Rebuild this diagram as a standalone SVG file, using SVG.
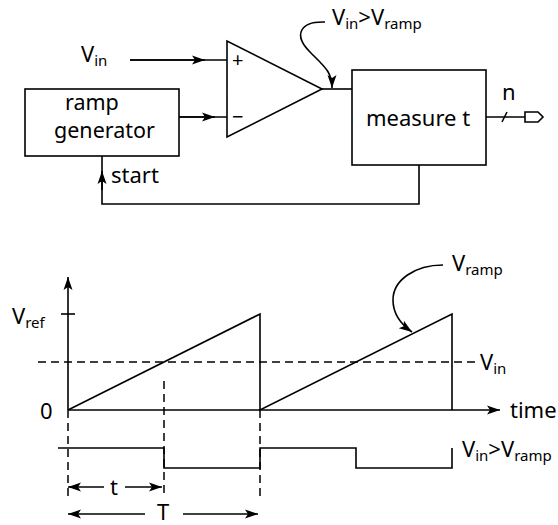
<svg xmlns="http://www.w3.org/2000/svg" width="558" height="525" viewBox="0 0 558 525">
<defs>
<style>
.ln{fill:none;stroke:#000;stroke-width:1.6}
.box{fill:#fff;stroke:#000;stroke-width:1.6}
.dash{fill:none;stroke:#000;stroke-width:1.5;stroke-dasharray:8 5}
text{font-family:"Noto Sans","Liberation Sans",sans-serif;font-size:22px;fill:#000}
.sub{font-size:15px}
</style>
<marker id="arr" viewBox="-14 -6 16 12" refX="0" refY="0" markerWidth="16" markerHeight="12" markerUnits="userSpaceOnUse" orient="auto">
<path d="M0,0 L-13,-4.5 L-10,0 L-13,4.5 Z" fill="#000"/>
</marker>
</defs>
<rect width="558" height="525" fill="#fff"/>

<g id="comparator">
<polygon class="box" points="227,41 227,137 322,89"/>
<text x="232" y="67" style="font-size:20px">+</text>
<text x="232" y="124" style="font-size:20px">−</text>
</g>

<g id="ramp-generator">
<rect class="box" x="25" y="89" width="154" height="67"/>
<text style="font-size:21.5px"><tspan x="65" y="110">ramp</tspan><tspan x="54" y="138">generator</tspan></text>
</g>

<g id="measure">
<rect class="box" x="352" y="70" width="134" height="95"/>
<text x="366" y="126">measure t</text>
</g>

<g id="output-port">
<polygon class="box" points="525,112 538,112 543,117 538,122 525,122"/>
<text x="502" y="100">n</text>
</g>

<g id="labels-top">
<text x="81" y="62">V<tspan class="sub" dy="4">in</tspan></text>
<text x="332" y="25">V<tspan class="sub" dy="4">in</tspan><tspan dy="-4">&gt;V</tspan><tspan class="sub" dy="4">ramp</tspan></text>
<text x="111" y="183">start</text>
</g>

<g id="connectors">
<line class="ln" x1="130" y1="60" x2="227" y2="60"/>
<line class="ln" x1="130" y1="60" x2="205" y2="60" marker-end="url(#arr)"/>
<line class="ln" x1="179" y1="117" x2="227" y2="117"/>
<line class="ln" x1="179" y1="117" x2="215" y2="117" marker-end="url(#arr)"/>
<line class="ln" x1="322" y1="89" x2="352" y2="89"/>
<line class="ln" x1="486" y1="117" x2="525" y2="117"/>
<line class="ln" x1="502" y1="122" x2="507" y2="112"/>
<polyline class="ln" points="419,165 419,204 102,204 102,156"/>
<line class="ln" x1="102" y1="190" x2="102" y2="171" marker-end="url(#arr)"/>
<path class="ln" d="M325,22 C300,21 293,35 310,52 C325,67 332,72 332,88" marker-end="url(#arr)"/>
</g>

<g id="graph">
<line class="ln" x1="68" y1="410" x2="68" y2="277" marker-end="url(#arr)"/>
<line class="ln" x1="68" y1="410" x2="500" y2="410" marker-end="url(#arr)"/>
<line class="ln" x1="61" y1="314" x2="75" y2="314"/>
<line class="dash" x1="38" y1="362" x2="480" y2="362"/>
<polyline class="ln" points="68,410 260,314 260,410 452,314 452,410"/>
<line class="dash" x1="68" y1="410" x2="68" y2="497"/>
<line class="dash" x1="164" y1="381" x2="164" y2="497"/>
<line class="dash" x1="260" y1="410" x2="260" y2="497"/>
<polyline class="ln" points="58,448 164,448 164,468 260,468 260,448 356,448 356,468 452,468 452,448"/>
<line class="ln" x1="104" y1="487" x2="68" y2="487" marker-end="url(#arr)"/>
<line class="ln" x1="125" y1="487" x2="162" y2="487" marker-end="url(#arr)"/>
<line class="ln" x1="145" y1="514" x2="68" y2="514" marker-end="url(#arr)"/>
<line class="ln" x1="183" y1="514" x2="258" y2="514" marker-end="url(#arr)"/>
<path class="ln" d="M443,265 C415,265 393,280 393,300 C393,315 402,325 412,332" marker-end="url(#arr)"/>
<text x="12" y="324">V<tspan class="sub" dy="4">ref</tspan></text>
<text x="40" y="419">0</text>
<text x="480" y="370">V<tspan class="sub" dy="4">in</tspan></text>
<text x="510" y="418">time</text>
<text x="462" y="457">V<tspan class="sub" dy="4">in</tspan><tspan dy="-4">&gt;V</tspan><tspan class="sub" dy="4">ramp</tspan></text>
<text x="452" y="271">V<tspan class="sub" dy="4">ramp</tspan></text>
<text x="110" y="495">t</text>
<text x="157" y="520">T</text>
</g>
</svg>
